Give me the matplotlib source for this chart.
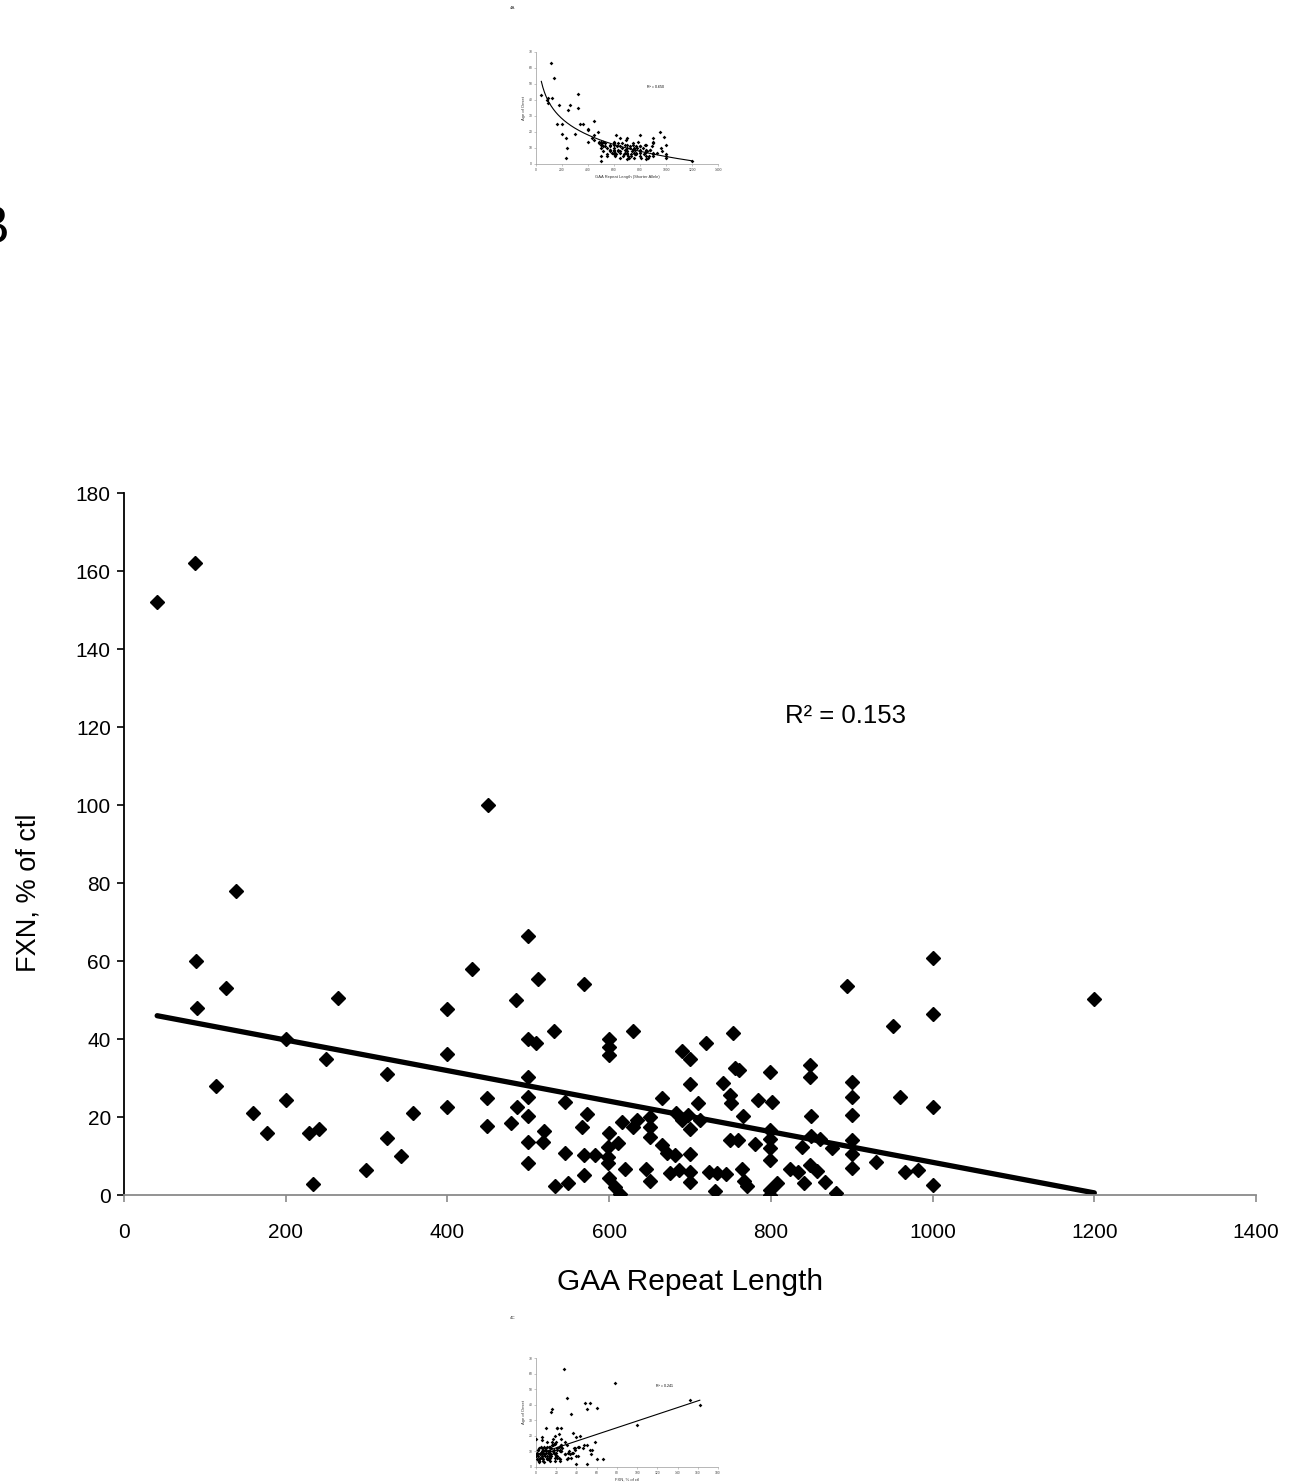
import numpy as np
import matplotlib
matplotlib.use("Agg")
from matplotlib import pyplot as plt

plt.rcParams["font.family"] = ["Liberation Sans", "DejaVu Sans"]

# GAA repeat length, frataxin level (% of control) and age of onset per patient
gaa = [41, 88, 450, 138, 89, 90, 126, 114, 160, 177,
       200, 200, 265, 250, 229, 241, 234, 325, 325, 358,
       342, 299, 400, 400, 400, 430, 449, 449, 479, 485,
       486, 500, 512, 569, 532, 500, 510, 500, 500, 545,
       500, 573, 566, 519, 518, 500, 545, 569, 582, 500,
       569, 533, 549, 600, 600, 600, 600, 598, 598, 598,
       600, 607, 613, 611, 630, 690, 700, 720, 700, 665,
       710, 683, 698, 634, 650, 616, 630, 650, 690, 712,
       700, 650, 665, 671, 681, 700, 620, 646, 650, 675,
       686, 700, 700, 723, 733, 745, 731, 753, 756, 761,
       799, 848, 848, 894, 900, 900, 900, 784, 801, 741,
       749, 751, 766, 849, 749, 759, 780, 799, 799, 799,
       799, 839, 849, 861, 876, 900, 900, 900, 764, 767,
       771, 799, 808, 799, 824, 833, 841, 848, 857, 867,
       880, 1000, 1000, 951, 960, 1000, 930, 966, 982, 1000,
       1200]
fxn = [152, 162, 100, 78, 60, 48, 53, 28, 21, 16,
       40, 24.4, 50.6, 35, 16, 17, 2.8, 31, 14.7, 21,
       10, 6.3, 47.6, 36.3, 22.7, 58, 24.8, 17.8, 18.5, 50,
       22.7, 66.5, 55.3, 54.1, 42.1, 40, 38.9, 30.3, 25.1, 23.9,
       20.3, 20.8, 17.4, 16.5, 13.7, 13.5, 10.8, 10.3, 10.4, 8.1,
       5.1, 2.4, 3.2, 40, 38, 36, 15.8, 12.4, 9.8, 8.1,
       4.5, 2.1, 0.3, 13.3, 42, 37, 34.8, 38.9, 28.5, 24.8,
       23.5, 21, 20.5, 19.2, 20.1, 18.8, 17.5, 17.5, 19.2, 19.2,
       16.9, 15, 12.8, 10.7, 10.3, 10.5, 6.7, 6.6, 3.6, 5.6,
       6.4, 6, 3.4, 6, 5.6, 5.4, 1.1, 41.5, 32.6, 32,
       31.6, 33.3, 30.3, 53.6, 29.1, 25.1, 20.5, 24.4, 23.9, 28.7,
       25.6, 23.5, 20.2, 20.2, 14.1, 14.1, 13.2, 16.7, 14.5, 12,
       9, 12.4, 15.2, 14.3, 12, 14.1, 10.5, 7, 6.7, 3.6,
       2.4, 1.3, 3.1, 0.1, 6.6, 6, 3.1, 7.7, 6.2, 3.4,
       0.6, 60.8, 46.5, 43.3, 25.2, 22.5, 8.5, 6, 6.4, 2.5,
       50.3]
onset = [43, 40, 27, 54, 38, 41, 41, 63, 25, 37,
         19, 25, 37, 34, 16, 10, 4, 44, 35, 25,
         25, 19, 14, 22, 21, 16, 18, 15, 20, 14,
         13, 5, 11, 8, 13, 2, 12, 14, 13, 10,
         12, 11, 9, 14, 8, 10, 6, 12, 7, 13,
         9, 11, 5, 7, 12, 9, 14, 6, 10, 8,
         13, 7, 18, 5, 13, 9, 6, 11, 8, 10,
         5, 7, 12, 8, 16, 6, 9, 11, 15, 4,
         10, 7, 13, 5, 9, 16, 11, 4, 8, 6,
         12, 7, 3, 10, 6, 9, 5, 7, 10, 6,
         9, 8, 5, 11, 16, 14, 6, 14, 11, 8,
         12, 4, 7, 9, 13, 6, 10, 18, 8, 5,
         11, 7, 12, 4, 9, 7, 13, 5, 9, 6,
         11, 8, 4, 7, 10, 6, 12, 3, 8, 5,
         9, 5, 12, 20, 10, 6, 7, 8, 17, 4,
         2]

# trend lines (Excel fits)
lin_b = [47.6, -0.0392]      # FXN = a + b * GAA
log_a = [106.2, -14.7]       # onset = a + b * ln(GAA)
lin_c = [7.95, 0.2156]       # onset = a + b * FXN

fig = plt.figure(figsize=(13, 14.84), dpi=100)

# ---- main panel 4B ----
ax = fig.add_axes([0.0954, 0.1947, 0.8708, 0.473])
ax.plot(gaa, fxn, "D", color="black", ms=7.4, mew=1, mec="black", zorder=3)
xl = np.array([min(gaa), max(gaa)])
ax.plot(xl, lin_b[0] + lin_b[1] * xl, color="black", lw=3.8, solid_capstyle="round", zorder=2)
ax.text(817, 122.8, "R² = 0.153", fontsize=18.5, va="center", ha="left")

ax.set_xlim(0, 1400)
ax.set_ylim(0, 180)
ax.set_xticks(np.arange(0, 1401, 200))
ax.set_yticks(np.arange(0, 181, 20))
for s in ["top", "right"]:
    ax.spines[s].set_visible(False)
ax.spines["left"].set_color("black")
ax.spines["left"].set_linewidth(1.3)
ax.spines["bottom"].set_color("#8a8a8a")
ax.spines["bottom"].set_linewidth(1.3)
ax.tick_params(axis="x", direction="out", length=5, width=1.2, color="#8a8a8a", labelsize=15, pad=15)
ax.tick_params(axis="y", direction="out", length=5, width=1.2, color="black", labelsize=15, pad=4.5)
ax.set_xlabel("GAA Repeat Length", fontsize=21.5)
ax.set_ylabel("FXN, % of ctl", fontsize=19.5)
ax.xaxis.set_label_coords(0.5, -0.104)
ax.yaxis.set_label_coords(-0.073, 0.43)

fig.text(0.008, 0.8363, "4B", fontsize=38, ha="right", va="baseline")


def small_panel(rect, x, y, fit_x, fit_y, xmax, xstep, xlabel, r2, r2_pos):
    a = fig.add_axes(rect)
    a.plot(x, y, "D", color="black", ms=1.9, mew=0, zorder=3)
    a.plot(fit_x, fit_y, color="black", lw=0.8, zorder=2)
    a.text(r2_pos[0], r2_pos[1], r2, fontsize=2.6, va="center")
    a.set_xlim(0, xmax)
    a.set_ylim(0, 70)
    a.set_xticks(np.arange(0, xmax + 1, xstep))
    a.set_yticks(np.arange(0, 71, 10))
    for s in ["top", "right"]:
        a.spines[s].set_visible(False)
    for s in ["left", "bottom"]:
        a.spines[s].set_color("#9a9a9a")
        a.spines[s].set_linewidth(0.5)
    a.tick_params(direction="out", length=1.2, width=0.4, color="#9a9a9a",
                  labelsize=2.4, pad=1.5, labelcolor="#444444")
    a.set_xlabel(xlabel, fontsize=3.0, labelpad=2, color="#333333")
    a.set_ylabel("Age of Onset", fontsize=3.0, labelpad=2, color="#333333")
    return a


# ---- panel 4A ----
gx = np.linspace(min(gaa), max(gaa), 200)
small_panel([0.4123, 0.8895, 0.14, 0.0755], gaa, onset, gx,
            log_a[0] + log_a[1] * np.log(gx), 1400, 200,
            "GAA Repeat Length (Shorter Allele)", "R² = 0.650", (857, 48))
fig.text(510 / 1300, 1 - 8 / 1484, "4A", fontsize=3.2, va="center", color="#333333")

# ---- panel 4C ----
fx = np.array([0, max(fxn)])
small_panel([0.4123, 0.0115, 0.14, 0.0734], fxn, onset, fx,
            lin_c[0] + lin_c[1] * fx, 180, 20,
            "FXN, % of ctl", "R² = 0.241", (119, 52))
fig.text(510 / 1300, 1 - 1318 / 1484, "4C", fontsize=3.2, va="center", color="#333333")

fig.savefig("out.png", dpi=100)
